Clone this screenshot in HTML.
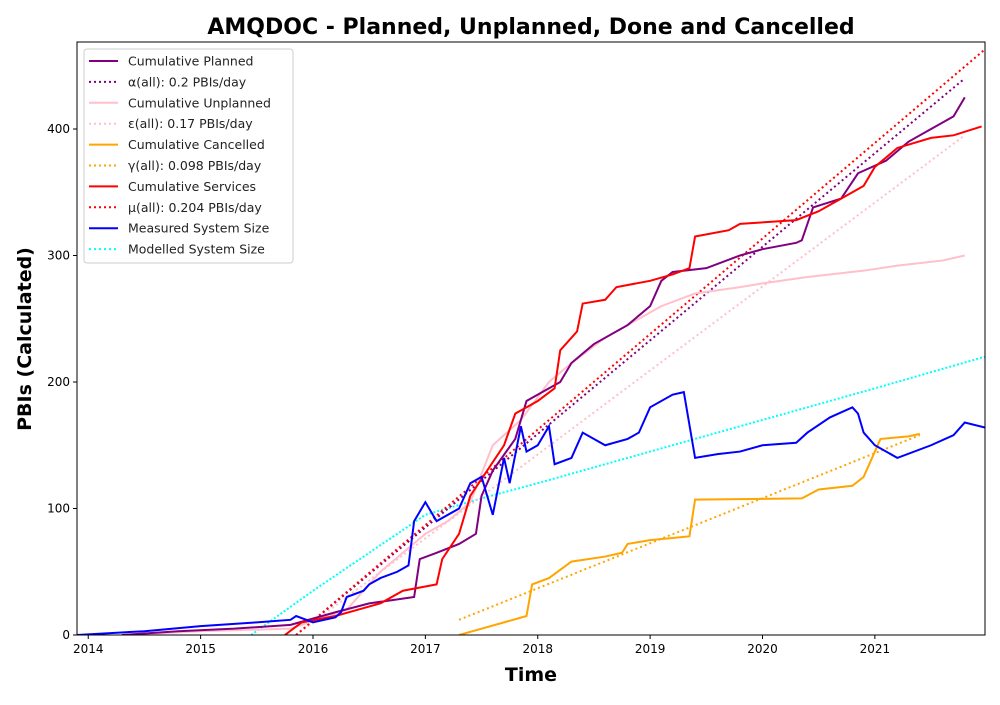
<!DOCTYPE html>
<html><head><meta charset="utf-8"><style>
body{margin:0;background:#fff;}
svg text{font-family:"DejaVu Sans","Liberation Sans",sans-serif;}
</style></head><body>
<svg id="chart" width="1000" height="700" xmlns="http://www.w3.org/2000/svg">
<defs><clipPath id="plotclip"><rect x="77" y="42" width="908" height="593"/></clipPath></defs>
<rect width="1000" height="700" fill="#fff"/>
<text x="531" y="34" text-anchor="middle" font-size="22" font-weight="bold">AMQDOC - Planned, Unplanned, Done  and Cancelled</text>
<text x="531" y="681" text-anchor="middle" font-size="19" font-weight="bold">Time</text>
<text transform="translate(31,339) rotate(-90)" text-anchor="middle" font-size="19" font-weight="bold">PBIs (Calculated)</text>
<g id="marks" clip-path="url(#plotclip)"></g>
<g id="axes"></g>
<g id="legend"></g>
</svg>
<script>
const xTicks=[2014,2015,2016,2017,2018,2019,2020,2021];
const yTicks=[0,100,200,300,400];
const plannedX=[2014.3,2014.8,2015.3,2015.8,2016.2,2016.5,2016.9,2016.95,2017.1,2017.3,2017.45,2017.5,2017.6,2017.8,2017.9,2018.0,2018.2,2018.3,2018.5,2018.8,2019.0,2019.1,2019.2,2019.5,2019.8,2020.0,2020.3,2020.35,2020.45,2020.7,2020.85,2021.1,2021.3,2021.5,2021.7,2021.8];
const plannedY=[0,3,5,8,18,25,30,60,65,72,80,110,130,155,185,190,200,215,230,245,260,280,287,290,300,305,310,312,338,345,365,375,390,400,410,425];
const unplannedX=[2014.3,2015.0,2015.8,2016.3,2016.6,2016.8,2017.0,2017.2,2017.4,2017.6,2017.85,2018.1,2018.3,2018.6,2018.9,2019.1,2019.4,2019.8,2020.0,2020.4,2020.9,2021.2,2021.6,2021.8];
const unplannedY=[0,3,5,20,50,65,80,90,105,150,170,200,215,235,250,260,270,275,278,283,288,292,296,300];
const cancelledX=[2017.3,2017.5,2017.7,2017.9,2017.95,2018.1,2018.3,2018.6,2018.75,2018.8,2019.0,2019.35,2019.4,2020.35,2020.5,2020.8,2020.9,2021.0,2021.05,2021.3,2021.4];
const cancelledY=[0,5,10,15,40,45,58,62,65,72,75,78,107,108,115,118,125,145,155,157,159];
const servicesX=[2015.75,2015.9,2016.2,2016.4,2016.6,2016.8,2017.1,2017.15,2017.3,2017.4,2017.55,2017.7,2017.8,2018.0,2018.15,2018.2,2018.35,2018.4,2018.6,2018.7,2019.0,2019.2,2019.35,2019.4,2019.7,2019.8,2020.3,2020.5,2020.7,2020.9,2021.0,2021.2,2021.5,2021.7,2021.95];
const servicesY=[0,10,15,20,25,35,40,60,80,110,130,150,175,185,195,225,240,262,265,275,280,285,290,315,320,325,328,335,345,355,370,385,393,395,402];
const measuredX=[2013.9,2014.5,2015.0,2015.5,2015.8,2015.85,2016.0,2016.2,2016.25,2016.3,2016.45,2016.5,2016.6,2016.75,2016.85,2016.9,2017.0,2017.1,2017.3,2017.4,2017.5,2017.6,2017.7,2017.75,2017.85,2017.9,2018.0,2018.1,2018.15,2018.3,2018.4,2018.6,2018.8,2018.9,2019.0,2019.2,2019.3,2019.4,2019.6,2019.8,2020.0,2020.3,2020.4,2020.6,2020.8,2020.85,2020.9,2021.0,2021.2,2021.5,2021.7,2021.8,2021.98];
const measuredY=[0,3,7,10,12,15,10,14,18,30,35,40,45,50,55,90,105,90,100,120,125,95,140,120,165,145,150,165,135,140,160,150,155,160,180,190,192,140,143,145,150,152,160,172,180,175,160,150,140,150,158,168,164];
const modelledX=[2015.45,2016.0,2016.5,2017.0,2017.5,2018.0,2019.0,2020.0,2021.0,2021.98];
const modelledY=[0,35,65,95,108,120,145,170,195,220];
const alphaX=[2015.85,2021.8],alphaY=[0,440];
const epsX=[2015.85,2021.8],epsY=[0,395];
const gammaX=[2017.3,2021.4],gammaY=[12,158];
const muX=[2015.85,2021.98],muY=[0,463];

const L=77,R=985,T=42,B=635;
const x0=2013.9,x1=2021.98;
const sx=v=>L+(v-x0)/(x1-x0)*(R-L);
const sy=v=>B-v*1.265;
const NS="http://www.w3.org/2000/svg";
function mk(tag,parent){const e=document.createElementNS(NS,tag);parent.appendChild(e);return e;}
const marks=document.getElementById('marks');
function line(xs,ys,color,dash,name){
  let d='';
  for(let i=0;i<xs.length;i++){
    d+=(i===0?'M':'L')+sx(xs[i])+','+sy(ys[i]);
  }
  const p=mk('path',marks);
  p.setAttribute('d',d);p.setAttribute('fill','none');p.setAttribute('stroke',color);
  p.setAttribute('stroke-width','2');
  if(dash)p.setAttribute('stroke-dasharray',dash);
  
  
}
line(modelledX,modelledY,'cyan','2,2','modelled-system-size-line');
line(alphaX,alphaY,'purple','2,3','alpha-fit-line');
line(epsX,epsY,'pink','2,3','epsilon-fit-line');
line(gammaX,gammaY,'orange','2,3','gamma-fit-line');
line(muX,muY,'red','2,3','mu-fit-line');
line(unplannedX,unplannedY,'pink','','cumulative-unplanned-line');
line(cancelledX,cancelledY,'orange','','cumulative-cancelled-line');
line(plannedX,plannedY,'purple','','cumulative-planned-line');
line(servicesX,servicesY,'red','','cumulative-services-line');
line(measuredX,measuredY,'blue','','measured-system-size-line');

const axes=document.getElementById('axes');
const frame=mk('rect',axes);
frame.setAttribute('x',L);frame.setAttribute('y',T);frame.setAttribute('width',R-L);frame.setAttribute('height',B-T);
frame.setAttribute('fill','none');frame.setAttribute('stroke','#000');


xTicks.forEach(t=>{
  const l=mk('line',axes);l.setAttribute('x1',sx(t));l.setAttribute('x2',sx(t));l.setAttribute('y1',B);l.setAttribute('y2',B+4);l.setAttribute('stroke','#000');
  
  
  const tx=mk('text',axes);tx.setAttribute('x',sx(t));tx.setAttribute('y',B+18);tx.setAttribute('text-anchor','middle');tx.setAttribute('font-size','12');tx.textContent=t;
  
  
});
yTicks.forEach(t=>{
  const l=mk('line',axes);l.setAttribute('x1',L-4);l.setAttribute('x2',L);l.setAttribute('y1',sy(t));l.setAttribute('y2',sy(t));l.setAttribute('stroke','#000');
  
  
  const tx=mk('text',axes);tx.setAttribute('x',L-7);tx.setAttribute('y',sy(t)+4);tx.setAttribute('text-anchor','end');tx.setAttribute('font-size','12');tx.textContent=t;
  
  
});

const legendLabels=['Cumulative Planned','α(all): 0.2 PBIs/day','Cumulative Unplanned','ε(all): 0.17 PBIs/day','Cumulative Cancelled','γ(all): 0.098 PBIs/day','Cumulative Services','μ(all): 0.204 PBIs/day','Measured System Size','Modelled System Size'];
const legendColors=['purple','purple','pink','pink','orange','orange','red','red','blue','cyan'];
const legendDashed=[false,true,false,true,false,true,false,true,false,true];
const lg=document.getElementById('legend');
const box=mk('rect',lg);
box.setAttribute('x',84);box.setAttribute('y',49);box.setAttribute('width',209);box.setAttribute('height',214);box.setAttribute('rx',3);
box.setAttribute('fill','#fff');box.setAttribute('fill-opacity','0.85');box.setAttribute('stroke','#ccc');


legendLabels.forEach((lab,i)=>{
  const y=61+i*20.9;
  const l=mk('line',lg);l.setAttribute('x1',89);l.setAttribute('x2',118);l.setAttribute('y1',y);l.setAttribute('y2',y);
  l.setAttribute('stroke',legendColors[i]);l.setAttribute('stroke-width','2');
  if(legendDashed[i])l.setAttribute('stroke-dasharray','2,3');
  
  
  const tx=mk('text',lg);tx.setAttribute('x',128);tx.setAttribute('y',y+4.5);tx.setAttribute('font-size','12.5');tx.setAttribute('fill','#222');tx.textContent=lab;
  
  
});
</script>
</body></html>
